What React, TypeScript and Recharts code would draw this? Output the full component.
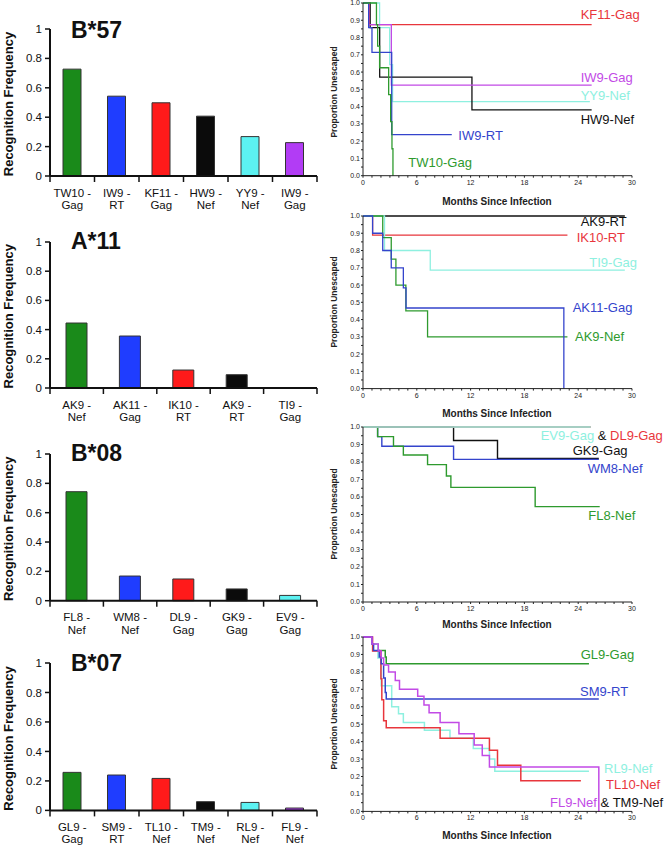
import React from 'react';
import { BarChart, Bar, XAxis, YAxis, Cell, LineChart, Line } from 'recharts';

const FONT = '"Liberation Sans", Arial, Helvetica, sans-serif';

// ---------- Bar chart data (recognition frequency) ----------
const b57Names = ['TW10 - Gag', 'IW9 - RT', 'KF11 - Gag', 'HW9 - Nef', 'YY9 - Nef', 'IW9 - Gag'];
const b57Freq = [0.727, 0.543, 0.498, 0.407, 0.268, 0.227];
const a11Names = ['AK9 - Nef', 'AK11 - Gag', 'IK10 - RT', 'AK9 - RT', 'TI9 - Gag'];
const a11Freq = [0.445, 0.356, 0.123, 0.091, 0];
const b08Names = ['FL8 - Nef', 'WM8 - Nef', 'DL9 - Gag', 'GK9 - Gag', 'EV9 - Gag'];
const b08Freq = [0.743, 0.168, 0.148, 0.08, 0.036];
const b07Names = ['GL9 - Gag', 'SM9 - RT', 'TL10 - Nef', 'TM9 - Nef', 'RL9 - Nef', 'FL9 - Nef'];
const b07Freq = [0.258, 0.24, 0.217, 0.059, 0.054, 0.016];
const barYTicks = [0, 0.2, 0.4, 0.6, 0.8, 1];

// ---------- Kaplan-Meier curves: [month, proportion unescaped] ----------
type Pt = [number, number];
const kf11Gag: Pt[] = [[0, 1], [0.7, 0.875], [25.5, 0.875]];
const iw9Gag: Pt[] = [[0, 1], [0.63, 0.875], [3.16, 0.525], [25.5, 0.525]];
const yy9Nef: Pt[] = [[0, 1], [1.85, 0.857], [2.97, 0.643], [3.3, 0.429], [25.3, 0.429]];
const hw9Nef: Pt[] = [[0, 1], [0.8, 0.857], [1.86, 0.571], [12.15, 0.381], [25.5, 0.381]];
const iw9RT: Pt[] = [[0, 1], [0.63, 0.857], [1.0, 0.714], [3.2, 0.238], [9.9, 0.238]];
const tw10Gag: Pt[] = [[0, 1], [1.5, 0.875], [1.63, 0.75], [1.85, 0.625], [2.86, 0.469], [3.08, 0.3125], [3.23, 0.156], [3.34, 0]];

const ak9RT: Pt[] = [[0, 1], [29.2, 1]];
const ik10RT: Pt[] = [[0, 1], [1.07, 0.889], [22.8, 0.889]];
const ti9Gag: Pt[] = [[0, 1], [2.4, 0.8], [7.5, 0.686], [29.2, 0.686]];
const ak11Gag: Pt[] = [[0, 1], [1.07, 0.9], [2.2, 0.8], [3.15, 0.7], [4.5, 0.583], [4.8, 0.467], [22.4, 0]];
const ak9Nef: Pt[] = [[0, 1], [2.2, 0.875], [3.15, 0.75], [3.67, 0.6], [4.78, 0.45], [7.2, 0.3], [22.8, 0.3]];

const dl9Gag: Pt[] = [[0, 1], [25.4, 1]];
const ev9Gag: Pt[] = [[0, 1], [25.4, 1]];
const gk9Gag: Pt[] = [[0, 1], [10.1, 0.923], [15.0, 0.82], [26.3, 0.82]];
const wm8Nef: Pt[] = [[0, 1], [1.63, 0.945], [2.1, 0.89], [10.1, 0.815], [26.3, 0.815]];
const fl8Nef: Pt[] = [[0, 1], [1.63, 0.945], [3.4, 0.89], [4.5, 0.84], [7.2, 0.785], [9.3, 0.72], [9.8, 0.655], [19.2, 0.545], [26.4, 0.545]];

const gl9Gag: Pt[] = [[0, 1], [1.0, 0.96], [1.66, 0.923], [2.48, 0.885], [2.59, 0.846], [25.2, 0.846]];
const sm9RT: Pt[] = [[0, 1], [1.0, 0.96], [1.18, 0.923], [1.81, 0.885], [2.03, 0.846], [2.3, 0.765], [2.48, 0.682], [2.59, 0.645], [26.3, 0.645]];
const tl10Nef: Pt[] = [[0, 1], [1.07, 0.92], [2.0, 0.76], [2.1, 0.64], [2.3, 0.52], [2.59, 0.48], [8.6, 0.42], [14.1, 0.35], [15.0, 0.265], [17.6, 0.175], [24.3, 0.175]];
const rl9Nef: Pt[] = [[0, 1], [1.0, 0.96], [1.66, 0.88], [2.03, 0.72], [3.2, 0.6], [3.96, 0.56], [4.5, 0.51], [6.85, 0.465], [9.7, 0.42], [12.3, 0.36], [14.1, 0.3], [14.7, 0.23], [25.2, 0.23]];
const fl9Nef: Pt[] = [[0, 1], [1.0, 0.96], [1.7, 0.92], [2.03, 0.88], [2.3, 0.84], [2.85, 0.8], [3.6, 0.75], [4.07, 0.7], [6.1, 0.66], [6.8, 0.61], [7.37, 0.565], [8.6, 0.51], [10.7, 0.445], [12.4, 0.38], [13.3, 0.32], [14.1, 0.255], [26.3, 0]];

const monthTicks = Array.from({ length: 31 }, (_, i) => i);
const propTicks = Array.from({ length: 21 }, (_, i) => i / 20);

// ---------- styles ----------
const BAR_COLORS = ['#1a8a1a', '#1f3dff', '#ff1a1a', '#0b0b0b', '#5cf2f2', '#b23cf5'];
const RED = '#e8363c';
const PURPLE = '#c24ae6';
const CYAN = '#8ef0e0';
const BLACK = '#111111';
const BLUE = '#3444cc';
const GREEN = '#2e9a2e';

const toData = (pts: Pt[]) => pts.map(([t, p]) => ({ t, p }));

function BarPanel({ names, freq, y1, y0, barSize }: any) {
  const MT = 8;
  const plotH = y0 - y1;
  const axisY = MT + plotH;
  const plotLeft = 50;
  const plotRight = 317;
  const n = names.length;
  const band = (plotRight - plotLeft) / n;
  const data = names.map((nm: string, i: number) => ({ name: nm, v: freq[i] }));
  const renderTick = (p: any) => {
    const parts = String(p.payload.value).split(' - ');
    const x = p.x;
    return (
      <g>
        <line x1={x - band / 2} x2={x - band / 2} y1={axisY} y2={axisY + 6} stroke="#111" strokeWidth={1.5} />
        {p.index === n - 1 && (
          <line x1={x + band / 2} x2={x + band / 2} y1={axisY} y2={axisY + 6} stroke="#111" strokeWidth={1.5} />
        )}
        <text x={x} y={axisY + 20.6} textAnchor="middle" fontSize={11.5} fontFamily={FONT} fill="#111">{parts[0] + ' -'}</text>
        <text x={x} y={axisY + 33} textAnchor="middle" fontSize={11.5} fontFamily={FONT} fill="#111">{parts[1]}</text>
      </g>
    );
  };
  return (
    <div style={{ position: 'absolute', left: 0, top: y1 - MT }}>
      <BarChart width={330} height={MT + plotH + 42} data={data} margin={{ top: MT, right: 330 - plotRight, bottom: 0, left: 0 }} barSize={barSize}>
        <XAxis dataKey="name" height={42} interval={0} tickLine={false} tickSize={0} tickMargin={0}
          axisLine={{ stroke: '#111', strokeWidth: 2 }} tick={renderTick} />
        <YAxis type="number" domain={[0, 1]} ticks={barYTicks} interval={0} width={plotLeft} tickSize={5} tickMargin={3}
          axisLine={{ stroke: '#111', strokeWidth: 2 }} tickLine={{ stroke: '#111', strokeWidth: 1.5 }}
          tick={{ fontSize: 11.5, fill: '#111', fontFamily: FONT }}
          tickFormatter={(v: number) => String(Math.round(v * 10) / 10)} />
        <Bar dataKey="v" isAnimationActive={false} stroke="#333" strokeWidth={1}>
          {data.map((_: any, i: number) => <Cell key={i} fill={BAR_COLORS[i]} />)}
        </Bar>
      </BarChart>
    </div>
  );
}

function KMPanel({ curves, y1, y0, lw }: any) {
  const MT = 5;
  const plotH = y0 - y1;
  return (
    <div style={{ position: 'absolute', left: 330, top: y1 - MT }}>
      <LineChart width={334} height={MT + plotH + 14} margin={{ top: MT, right: 32, bottom: 0, left: 0 }}>
        <XAxis dataKey="t" type="number" domain={[0, 30]} ticks={monthTicks} interval={0} allowDataOverflow
          tickFormatter={(v: number) => (v % 6 === 0 ? String(v) : '')} height={14} tickSize={2} tickMargin={2}
          axisLine={{ stroke: '#222' }} tickLine={{ stroke: '#222' }}
          tick={{ fontSize: 7, fill: '#222', fontFamily: FONT }} />
        <YAxis type="number" domain={[0, 1]} ticks={propTicks} interval={0} width={33} tickSize={2} tickMargin={1}
          axisLine={{ stroke: '#222' }} tickLine={{ stroke: '#222' }}
          tick={{ fontSize: 7, fill: '#222', fontFamily: FONT }}
          tickFormatter={(v: number) => (Math.abs(v * 10 - Math.round(v * 10)) < 1e-6 ? v.toFixed(1) : '')} />
        {curves.map((c: any) => (
          <Line key={c.name} data={toData(c.data)} dataKey="p" type="stepAfter" stroke={c.color}
            strokeWidth={lw} dot={false} isAnimationActive={false} />
        ))}
      </LineChart>
    </div>
  );
}

const rows = [
  {
    title: 'B*57', titleBase: 37.7, names: b57Names, freq: b57Freq, by1: 29, by0: 176, barSize: 18,
    ky1: 3.3, ky0: 176, xTitleY: 201, yTitleY: 92, lw: 1.3,
    curves: [
      { name: 'YY9-Nef', data: yy9Nef, color: CYAN },
      { name: 'HW9-Nef', data: hw9Nef, color: BLACK },
      { name: 'KF11-Gag', data: kf11Gag, color: RED },
      { name: 'IW9-Gag', data: iw9Gag, color: PURPLE },
      { name: 'IW9-RT', data: iw9RT, color: BLUE },
      { name: 'TW10-Gag', data: tw10Gag, color: GREEN },
    ],
    labels: [
      { parts: [['KF11-Gag', RED]], x: 580.7, y: 14.3 },
      { parts: [['IW9-Gag', PURPLE]], x: 580.7, y: 77.3 },
      { parts: [['YY9-Nef', CYAN]], x: 580.7, y: 95.7 },
      { parts: [['HW9-Nef', BLACK]], x: 580.7, y: 119 },
      { parts: [['IW9-RT', BLUE]], x: 458.3, y: 135 },
      { parts: [['TW10-Gag', GREEN]], x: 408.3, y: 162.7 },
    ],
  },
  {
    title: 'A*11', titleBase: 249.3, names: a11Names, freq: a11Freq, by1: 241.7, by0: 387.7, barSize: 21,
    ky1: 215.7, ky0: 388.3, xTitleY: 413.3, yTitleY: 302, lw: 1.3,
    curves: [
      { name: 'AK9-RT', data: ak9RT, color: BLACK },
      { name: 'IK10-RT', data: ik10RT, color: RED },
      { name: 'TI9-Gag', data: ti9Gag, color: CYAN },
      { name: 'AK9-Nef', data: ak9Nef, color: GREEN },
      { name: 'AK11-Gag', data: ak11Gag, color: BLUE },
    ],
    labels: [
      { parts: [['AK9-RT', BLACK]], x: 580.7, y: 221.7 },
      { parts: [['IK10-RT', RED]], x: 576.7, y: 237.3 },
      { parts: [['TI9-Gag', CYAN]], x: 589.3, y: 262.7 },
      { parts: [['AK11-Gag', BLUE]], x: 572.7, y: 307.7 },
      { parts: [['AK9-Nef', GREEN]], x: 575, y: 336 },
    ],
  },
  {
    title: 'B*08', titleBase: 461, names: b08Names, freq: b08Freq, by1: 454, by0: 600.7, barSize: 21,
    ky1: 426.7, ky0: 601.7, xTitleY: 624, yTitleY: 514, lw: 1.4,
    curves: [
      { name: 'GK9-Gag', data: gk9Gag, color: BLACK },
      { name: 'WM8-Nef', data: wm8Nef, color: BLUE },
      { name: 'FL8-Nef', data: fl8Nef, color: GREEN },
      { name: 'DL9-Gag', data: dl9Gag, color: RED },
      { name: 'EV9-Gag', data: ev9Gag, color: CYAN },
    ],
    labels: [
      { parts: [['EV9-Gag', CYAN], [' & ', BLACK], ['DL9-Gag', RED]], x: 540.7, y: 435 },
      { parts: [['GK9-Gag', BLACK]], x: 572.7, y: 450.7 },
      { parts: [['WM8-Nef', BLUE]], x: 587.7, y: 468.3 },
      { parts: [['FL8-Nef', GREEN]], x: 588.3, y: 515 },
    ],
  },
  {
    title: 'B*07', titleBase: 671, names: b07Names, freq: b07Freq, by1: 663.3, by0: 810.7, barSize: 18,
    ky1: 637.3, ky0: 811.7, xTitleY: 835, yTitleY: 724, lw: 1.5,
    curves: [
      { name: 'GL9-Gag', data: gl9Gag, color: GREEN },
      { name: 'RL9-Nef', data: rl9Nef, color: CYAN },
      { name: 'TL10-Nef', data: tl10Nef, color: RED },
      { name: 'SM9-RT', data: sm9RT, color: BLUE },
      { name: 'FL9-Nef', data: fl9Nef, color: PURPLE },
    ],
    labels: [
      { parts: [['GL9-Gag', GREEN]], x: 580.7, y: 654 },
      { parts: [['SM9-RT', BLUE]], x: 580, y: 691 },
      { parts: [['RL9-Nef', CYAN]], x: 604, y: 768.3 },
      { parts: [['TL10-Nef', RED]], x: 606, y: 784 },
      { parts: [['FL9-Nef', PURPLE], [' & TM9-Nef', BLACK]], x: 550, y: 802.7 },
    ],
  },
];

export default function App() {
  return (
    <div style={{ position: 'absolute', left: 0, top: 0, width: 664, height: 846, background: '#fff', overflow: 'hidden' }}>
      {rows.map((r) => (
        <React.Fragment key={r.title}>
          <BarPanel names={r.names} freq={r.freq} y1={r.by1} y0={r.by0} barSize={r.barSize} />
          <KMPanel curves={r.curves} y1={r.ky1} y0={r.ky0} lw={r.lw} />
        </React.Fragment>
      ))}
      <svg width={664} height={846} style={{ position: 'absolute', left: 0, top: 0, pointerEvents: 'none' }}>
        {rows.map((r) => (
          <g key={r.title} fontFamily={FONT}>
            <text x={71} y={r.titleBase} fontSize={23} fontWeight="bold" fill="#111">{r.title}</text>
            <text transform={`translate(12.5, ${(r.by1 + r.by0) / 2 + 1.5}) rotate(-90)`} textAnchor="middle"
              fontSize={13} fontWeight="bold" fill="#111">Recognition Frequency</text>
            <text transform={`translate(336.5, ${r.yTitleY}) rotate(-90)`} textAnchor="middle"
              fontSize={8.5} fontWeight="bold" fill="#222">Proportion Unescaped</text>
            <text x={497} y={r.xTitleY + 3.6} textAnchor="middle" fontSize={10} fontWeight="bold" fill="#222">Months Since Infection</text>
            {r.labels.map((l: any, i: number) => (
              <text key={i} x={l.x} y={l.y + 4.6} fontSize={13} fill="#111">
                {l.parts.map((pt: any, j: number) => (
                  <tspan key={j} fill={pt[1]}>{pt[0]}</tspan>
                ))}
              </text>
            ))}
          </g>
        ))}
      </svg>
    </div>
  );
}
